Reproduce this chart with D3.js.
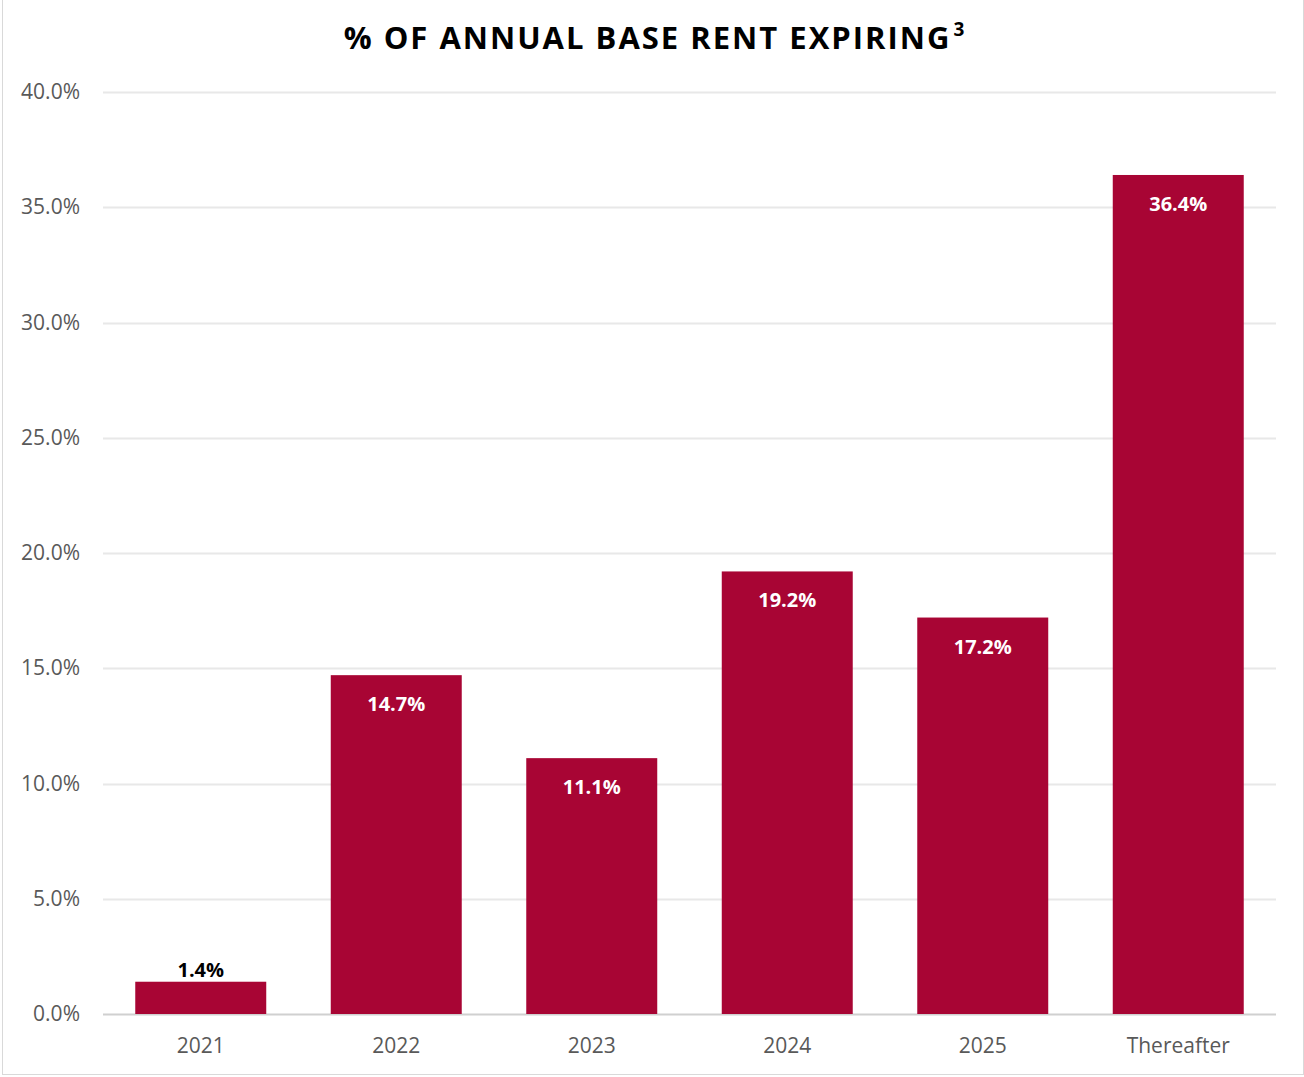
<!DOCTYPE html>
<html>
<head>
<meta charset="utf-8">
<script src="https://cdn.jsdelivr.net/npm/d3@7"></script>
<style>
	body { margin: 0; background: #fff; }
	svg text { font-family: "Open Sans", "Noto Sans", sans-serif; }
</style>
</head>
<body>
<div id="chart"></div>
<script>
// data
var categories = ["2021", "2022", "2023", "2024", "2025", "Thereafter"];
var values = [1.4, 14.7, 11.1, 19.2, 17.2, 36.4];
var yTicks = [0, 5, 10, 15, 20, 25, 30, 35, 40];

function RentChart() {
	var width = 1304, height = 1077;
	var margin = {top: 92, right: 28, bottom: 63, left: 103};

	var svg = d3.select("#chart").append("svg")
		.attr("width", width)
		.attr("height", height);

	// outer frame
	svg.append("rect")
		.attr("x", 2.5).attr("y", -2)
		.attr("width", width - 3).attr("height", height - 0.5)
		.attr("fill", "none")
		.attr("stroke", "#d9d9d9");

	svg.append("text")
		.attr("x", 654)
		.attr("y", 49)
		.attr("text-anchor", "middle")
		.attr("font-size", 31)
		.attr("font-weight", "bold")
		.attr("letter-spacing", 2)
		.attr("fill", "#000")
		.text("% OF ANNUAL BASE RENT EXPIRING")
		.append("tspan")
			.attr("dy", -13)
			.attr("dx", 2)
			.attr("font-size", 19)
			.attr("letter-spacing", 0)
			.text("3");

	var x = d3.scaleBand()
		.domain(categories)
		.range([margin.left, width - margin.right])
		.paddingInner(0.33)
		.paddingOuter(0.165);

	var y = d3.scaleLinear()
		.domain([0, 40])
		.range([height - margin.bottom, margin.top]);

	// grid lines
	svg.append("g")
		.selectAll("line")
		.data(yTicks)
		.join("line")
			.attr("x1", margin.left)
			.attr("x2", width - margin.right)
			.attr("y1", function (d) { return Math.round(y(d)) + 0.5; })
			.attr("y2", function (d) { return Math.round(y(d)) + 0.5; })
			.attr("stroke", function (d) { return d === 0 ? "#d0d0d0" : "#e8e8e8"; })
			.attr("stroke-width", 2);

	var yAxis = d3.axisLeft(y)
		.tickValues(yTicks)
		.tickFormat(function (d) { return d.toFixed(1) + "%"; })
		.tickSize(0)
		.tickPadding(23);

	var gy = svg.append("g")
		.attr("transform", "translate(" + margin.left + ",0)")
		.call(yAxis);
	gy.select(".domain").remove();
	gy.selectAll("text")
		.attr("font-size", 21)
		.attr("fill", "#595959")
		.style("font-family", "'Open Sans', sans-serif");

	var xAxis = d3.axisBottom(x).tickSize(0).tickPadding(24);
	var gx = svg.append("g")
		.attr("transform", "translate(0," + (height - margin.bottom) + ")")
		.call(xAxis);
	gx.select(".domain").remove();
	gx.selectAll("text")
		.attr("font-size", 21)
		.attr("fill", "#595959")
		.style("font-family", "'Open Sans', sans-serif");

	svg.append("g")
		.selectAll("rect")
		.data(values)
		.join("rect")
			.attr("x", function (d, i) { return x(categories[i]); })
			.attr("width", x.bandwidth())
			.attr("y", function (d) { return y(d); })
			.attr("height", function (d) { return y(0) - y(d); })
			.attr("fill", "#a80534");

	// value labels: inside the bar, above it when the bar is too short
	svg.append("g")
		.selectAll("text")
		.data(values)
		.join("text")
			.attr("x", function (d, i) { return x(categories[i]) + x.bandwidth() / 2; })
			.attr("y", function (d) { return d < 5 ? y(d) - 5 : y(d) + 36; })
			.attr("text-anchor", "middle")
			.attr("font-size", 20)
			.attr("font-weight", "bold")
			.attr("fill", function (d) { return d < 5 ? "#000" : "#fff"; })
			.text(function (d) { return d.toFixed(1) + "%"; });
}

RentChart();
</script>
</body>
</html>
